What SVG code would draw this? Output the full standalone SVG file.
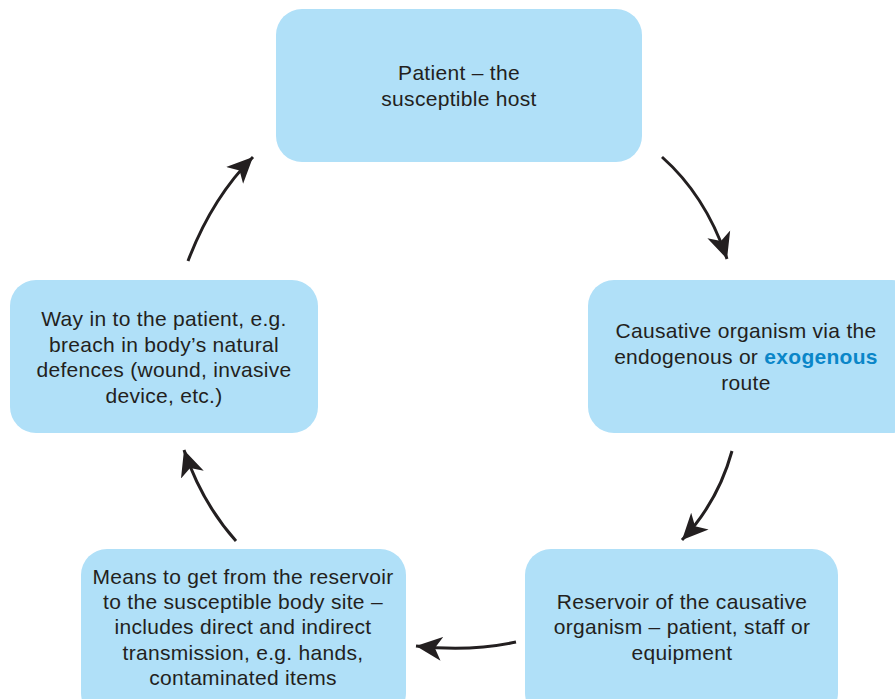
<svg xmlns="http://www.w3.org/2000/svg" width="895" height="699" viewBox="0 0 895 699">
<style>
.box{fill:#b0e0f8;}
.t{font-family:"Liberation Sans","Arial",sans-serif;font-size:21px;letter-spacing:0.3px;fill:#231f20;text-anchor:middle;}
.hl{fill:#0a86c8;font-weight:bold;}
.c{fill:none;stroke:#231f20;stroke-width:3;}
</style>
<defs>
<marker id="ah" markerUnits="userSpaceOnUse" markerWidth="30" markerHeight="28" refX="26" refY="14" orient="auto" viewBox="0 0 30 28">
<path d="M0,2 L26,14 L0,26 L7,14 z" fill="#231f20"/>
</marker>
</defs>
<rect width="895" height="699" fill="#ffffff"/>
<g id="patient">
<rect class="box" x="276" y="9" width="366" height="153" rx="26"/>
<text class="t" x="459" y="80">Patient – the</text>
<text class="t" x="459" y="106">susceptible host</text>
</g>
<g id="organism">
<rect class="box" x="588" y="280" width="330" height="153" rx="26"/>
<text class="t" x="746" y="338">Causative organism via the</text>
<text class="t" x="746" y="364">endogenous or <tspan class="hl">exogenous</tspan></text>
<text class="t" x="746" y="390">route</text>
</g>
<g id="reservoir">
<rect class="box" x="525" y="549" width="313" height="170" rx="26"/>
<text class="t" x="682" y="609">Reservoir of the causative</text>
<text class="t" x="682" y="634">organism – patient, staff or</text>
<text class="t" x="682" y="660">equipment</text>
</g>
<g id="means">
<rect class="box" x="81" y="549" width="325" height="170" rx="26"/>
<text class="t" x="243" y="584">Means to get from the reservoir</text>
<text class="t" x="243" y="609">to the susceptible body site –</text>
<text class="t" x="243" y="634">includes direct and indirect</text>
<text class="t" x="243" y="660">transmission, e.g. hands,</text>
<text class="t" x="243" y="685">contaminated items</text>
</g>
<g id="wayin">
<rect class="box" x="10" y="280" width="308" height="153" rx="26"/>
<text class="t" x="164" y="326">Way in to the patient, e.g.</text>
<text class="t" x="164" y="352">breach in body’s natural</text>
<text class="t" x="164" y="377">defences (wound, invasive</text>
<text class="t" x="164" y="403">device, etc.)</text>
</g>
<g id="connectors">
<path class="c" d="M662,157 Q706,196 727,259" marker-end="url(#ah)"/>
<path class="c" d="M732,451 Q718,502 682,540" marker-end="url(#ah)"/>
<path class="c" d="M516,642 Q470,652 416,646" marker-end="url(#ah)"/>
<path class="c" d="M236,541 Q202,503 184,450" marker-end="url(#ah)"/>
<path class="c" d="M188,261 Q212,198 253,157" marker-end="url(#ah)"/>
</g>
</svg>
